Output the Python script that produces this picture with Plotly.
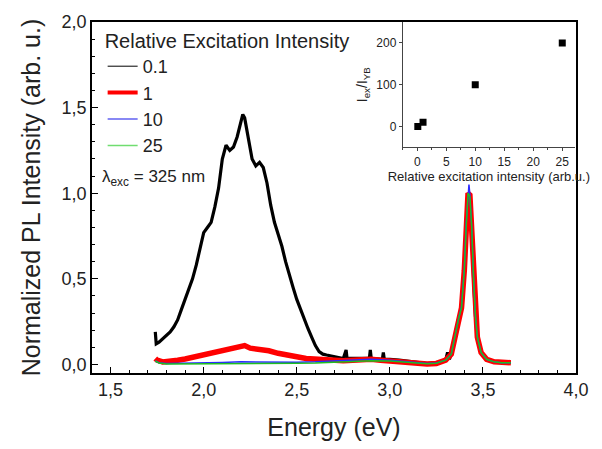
import plotly.graph_objects as go

# ---------------- data ----------------
E_black = [1.740, 1.745, 1.76, 1.78, 1.80, 1.82, 1.84, 1.86, 1.88, 1.90, 1.92, 1.94, 1.96, 1.98,
           2.00, 2.02, 2.04, 2.06, 2.08, 2.10, 2.12, 2.14, 2.16, 2.18, 2.20, 2.21, 2.22, 2.24,
           2.26, 2.28, 2.30, 2.32, 2.34, 2.36, 2.38, 2.40, 2.42, 2.44, 2.46, 2.48, 2.50, 2.52,
           2.54, 2.56, 2.58, 2.60, 2.62, 2.64, 2.66, 2.68, 2.70, 2.72, 2.75, 2.765, 2.77, 2.80,
           2.84, 2.89, 2.895, 2.90, 2.96, 2.965, 2.97, 3.00, 3.05, 3.10, 3.15, 3.20, 3.25, 3.30,
           3.31, 3.32, 3.33, 3.35, 3.37, 3.385, 3.40, 3.41, 3.42, 3.43, 3.44, 3.45, 3.46, 3.47,
           3.49, 3.52, 3.56, 3.65]
I_black = [0.19, 0.12, 0.13, 0.15, 0.17, 0.19, 0.22, 0.26, 0.32, 0.38, 0.44, 0.50, 0.58, 0.68,
           0.77, 0.80, 0.83, 0.92, 1.03, 1.20, 1.28, 1.25, 1.27, 1.33, 1.43, 1.46, 1.44, 1.33,
           1.20, 1.16, 1.18, 1.15, 1.06, 0.93, 0.83, 0.76, 0.69, 0.60, 0.52, 0.45, 0.38, 0.32,
           0.26, 0.21, 0.16, 0.11, 0.075, 0.06, 0.055, 0.05, 0.045, 0.04, 0.035, 0.085, 0.035, 0.035,
           0.035, 0.035, 0.085, 0.035, 0.03, 0.07, 0.03, 0.03, 0.025, 0.018, 0.01, 0.005, 0.008, 0.025,
           0.07, 0.03, 0.06, 0.17, 0.27, 0.33, 0.55, 0.80, 1.00, 0.98, 0.80, 0.50, 0.28, 0.16,
           0.07, 0.03, 0.015, 0.01]

E_red = [1.74, 1.75, 1.78, 1.82, 1.86, 1.90, 1.95, 2.00, 2.05, 2.10, 2.15, 2.20, 2.22, 2.25,
         2.30, 2.35, 2.40, 2.45, 2.50, 2.55, 2.60, 2.65, 2.70, 2.75, 2.80, 2.85, 2.90, 2.95,
         3.00, 3.05, 3.10, 3.15, 3.20, 3.25, 3.30, 3.33, 3.35, 3.37, 3.385, 3.40, 3.41, 3.42,
         3.43, 3.44, 3.45, 3.46, 3.47, 3.49, 3.52, 3.56, 3.60, 3.65]
I_red = [0.035, 0.025, 0.015, 0.018, 0.025, 0.032, 0.045, 0.055, 0.07, 0.085, 0.09, 0.105, 0.11, 0.095,
         0.09, 0.08, 0.065, 0.052, 0.045, 0.035, 0.03, 0.025, 0.022, 0.022, 0.025, 0.03, 0.03, 0.025,
         0.02, 0.015, 0.012, 0.008, 0.003, 0.006, 0.025, 0.06, 0.17, 0.27, 0.33, 0.55, 0.80, 1.00,
         0.99, 0.80, 0.50, 0.28, 0.16, 0.07, 0.03, 0.015, 0.01, 0.01]

E_blue = [1.74, 1.76, 1.80, 1.90, 2.00, 2.10, 2.20, 2.30, 2.40, 2.50, 2.60, 2.70, 2.80, 2.90,
          3.00, 3.10, 3.20, 3.25, 3.30, 3.33, 3.35, 3.37, 3.385, 3.40, 3.41, 3.42, 3.425, 3.43,
          3.44, 3.45, 3.46, 3.47, 3.49, 3.52, 3.56, 3.60, 3.65]
I_blue = [0.02, 0.01, 0.005, 0.006, 0.008, 0.012, 0.015, 0.014, 0.012, 0.013, 0.015, 0.02, 0.028, 0.03,
          0.025, 0.015, 0.005, 0.008, 0.025, 0.06, 0.17, 0.27, 0.34, 0.56, 0.82, 1.00, 1.05, 0.99,
          0.80, 0.50, 0.28, 0.16, 0.07, 0.03, 0.015, 0.01, 0.01]

E_green = [1.74, 1.76, 1.80, 1.90, 2.00, 2.10, 2.20, 2.30, 2.40, 2.50, 2.60, 2.70, 2.80, 2.90,
           3.00, 3.10, 3.20, 3.25, 3.30, 3.33, 3.35, 3.37, 3.385, 3.40, 3.41, 3.42, 3.43, 3.44,
           3.45, 3.46, 3.47, 3.49, 3.52, 3.56, 3.60, 3.65]
I_green = [0.02, 0.008, 0.003, 0.003, 0.004, 0.005, 0.006, 0.006, 0.006, 0.007, 0.008, 0.012, 0.02, 0.022,
           0.02, 0.012, 0.004, 0.007, 0.025, 0.06, 0.17, 0.27, 0.33, 0.55, 0.80, 1.00, 0.98, 0.80,
           0.50, 0.28, 0.16, 0.07, 0.03, 0.015, 0.01, 0.01]

legend_labels = ["0.1", "1", "10", "25"]

inset_x = [0.1, 1, 10, 25]
inset_y = [0, 10, 100, 200]

# ---------------- figure ----------------
FONT = "Arial, 'Liberation Sans', sans-serif"
fig = go.Figure()

fig.add_trace(go.Scatter(x=E_black, y=I_black, mode="lines", showlegend=False,
                         line=dict(color="black", width=3.2)))
fig.add_trace(go.Scatter(x=E_red, y=I_red, mode="lines", showlegend=False,
                         line=dict(color="#ff0000", width=5.5)))
fig.add_trace(go.Scatter(x=E_blue, y=I_blue, mode="lines", showlegend=False,
                         line=dict(color="#2a2aff", width=1.5)))
fig.add_trace(go.Scatter(x=E_green, y=I_green, mode="lines", showlegend=False,
                         line=dict(color="#1fbf1f", width=1.5)))

# legend entries
leg_styles = [("black", 1), ("#ff0000", 4), ("#6060f0", 1.5), ("#70dd70", 1.5)]
for lab, (c, w) in zip(legend_labels, leg_styles):
    fig.add_trace(go.Scatter(x=[None], y=[None], mode="lines", name=lab,
                             line=dict(color=c, width=w)))

# inset
fig.add_trace(go.Scatter(x=inset_x, y=inset_y, mode="markers", xaxis="x2", yaxis="y2",
                         showlegend=False,
                         marker=dict(symbol="square", size=7, color="black")))

axis_common = dict(showline=True, linecolor="black", linewidth=1.5, mirror=True,
                   ticks="inside", ticklen=6, tickwidth=1.2, tickcolor="black",
                   showgrid=False, zeroline=False,
                   tickfont=dict(size=18, color="#222", family=FONT))

fig.update_layout(
    width=602, height=449,
    margin=dict(l=92, r=26, t=20, b=73),
    paper_bgcolor="white", plot_bgcolor="white",
    separators=", ",
    font=dict(family=FONT, color="#222"),
    xaxis=dict(range=[1.4, 4.0], tick0=1.5, dtick=0.5, tickformat=".1f",
               minor=dict(dtick=0.1, ticks="inside", ticklen=3.5, tickcolor="black"),
               title=dict(text="Energy (eV)", font=dict(size=25, family=FONT), standoff=19),
               **axis_common),
    yaxis=dict(range=[-0.05, 2.0], tick0=0, dtick=0.5, tickformat=".1f",
               minor=dict(dtick=0.1, ticks="inside", ticklen=3.5, tickcolor="black"),
               title=dict(text="Normalized PL Intensity (arb. u.)", font=dict(size=25, family=FONT),
                          standoff=14),
               **axis_common),
    xaxis2=dict(domain=[0.642, 0.998], anchor="y2", range=[-2.5, 27.2], dtick=5, tick0=0,
                showline=True, linecolor="#444", linewidth=1, mirror=False,
                ticks="outside", ticklen=3, tickcolor="#444",
                minor=dict(dtick=2.5, ticks="outside", ticklen=2, tickcolor="#444"),
                showgrid=False, zeroline=False,
                tickfont=dict(size=12, family=FONT, color="#222"),
                title=dict(text="Relative excitation intensity (arb.u.)",
                           font=dict(size=13, family=FONT, color="#222"), standoff=2)),
    yaxis2=dict(domain=[0.643, 1.0], anchor="x2", range=[-50, 250], tickvals=[0, 100, 200],
                showline=True, linecolor="#444", linewidth=1, mirror=False,
                ticks="outside", ticklen=3, tickcolor="#444",
                showgrid=False, zeroline=False,
                tickfont=dict(size=12, family=FONT, color="#222"),
                title=dict(text="I<sub>ex</sub>/I<sub>YB</sub>",
                           font=dict(size=14, family=FONT, color="#222"), standoff=5)),
    legend=dict(x=0.022, y=1.0, xanchor="left", yanchor="top",
                bgcolor="rgba(0,0,0,0)", borderwidth=0,
                font=dict(size=18, family=FONT, color="#222"),
                title=dict(text="Relative Excitation Intensity", font=dict(size=20, family=FONT)),
                tracegroupgap=0, itemwidth=30),
    annotations=[dict(text="λ<sub>exc</sub> = 325 nm", xref="paper", yref="paper",
                      x=0.017, y=0.556, xanchor="left", yanchor="middle", showarrow=False,
                      font=dict(size=17, family=FONT, color="#222"))],
)

fig.write_html("out.html")
